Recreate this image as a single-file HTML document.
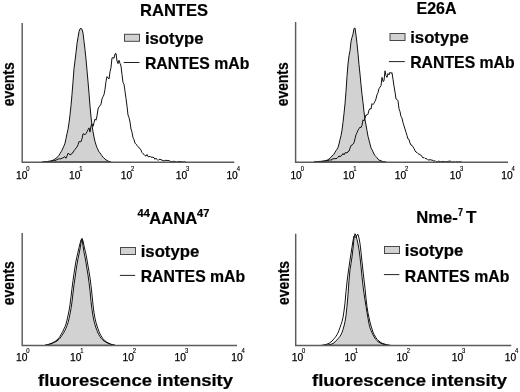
<!DOCTYPE html>
<html><head><meta charset="utf-8"><title>RANTES flow cytometry</title>
<style>
html,body{margin:0;padding:0;background:#fff;}
svg{display:block;font-family:'Liberation Sans', Arial, Helvetica, sans-serif;fill:#000;}
</style></head>
<body>
<svg width="520" height="392" viewBox="0 0 520 392">
<rect width="520" height="392" fill="#fff"/>
<path d="M44.0 162.0 L45.0 161.9 L46.0 161.7 L47.0 161.7 L48.0 161.4 L49.0 161.2 L50.0 161.1 L51.0 160.8 L52.0 160.5 L53.0 160.2 L54.0 159.7 L55.0 159.0 L56.0 158.3 L57.0 157.5 L58.0 156.6 L59.0 155.2 L60.0 153.6 L61.0 151.9 L62.0 150.2 L63.0 148.0 L64.0 145.8 L65.0 143.2 L66.0 138.6 L67.0 133.6 L68.0 129.3 L69.0 122.9 L70.0 114.8 L71.0 105.6 L72.0 94.4 L73.0 81.8 L74.0 68.6 L75.0 60.8 L76.0 52.5 L77.0 43.6 L78.0 37.5 L79.0 31.6 L80.0 28.8 L81.0 28.5 L82.0 29.2 L83.0 33.1 L84.0 41.4 L85.0 49.7 L86.0 59.2 L87.0 70.4 L88.0 81.5 L89.0 93.2 L90.0 106.1 L91.0 117.0 L92.0 125.4 L93.0 131.6 L94.0 137.1 L95.0 141.5 L96.0 144.9 L97.0 147.7 L98.0 149.8 L99.0 151.9 L100.0 152.9 L101.0 154.4 L102.0 155.9 L103.0 157.1 L104.0 158.1 L105.0 159.0 L106.0 159.9 L107.0 160.5 L108.0 161.0 L109.0 161.5 L110.0 161.8 L111.0 161.9Z" fill="#d2d2d2" stroke="#111" stroke-width="1" stroke-linejoin="round"/>
<path d="M42.0 161.9 L43.0 161.7 L44.0 162.0 L45.0 162.3 L46.0 161.9 L47.0 161.8 L48.0 162.1 L49.0 161.6 L50.0 161.7 L51.0 161.7 L52.0 161.0 L53.0 160.8 L54.0 160.7 L55.0 160.7 L56.0 160.1 L57.0 159.7 L58.0 159.1 L59.0 158.9 L60.0 158.7 L61.0 159.0 L62.0 158.1 L63.0 158.0 L64.0 157.0 L65.0 156.8 L66.0 158.3 L67.0 156.0 L68.0 153.2 L69.0 153.9 L70.0 154.7 L71.0 154.7 L72.0 153.1 L73.0 152.7 L74.0 150.7 L75.0 149.4 L76.0 148.0 L77.0 147.1 L78.0 144.8 L79.0 141.5 L80.0 141.8 L81.0 141.7 L82.0 138.8 L83.0 133.8 L84.0 134.0 L85.0 134.8 L86.0 133.5 L87.0 131.8 L88.0 129.7 L89.0 127.9 L90.0 132.1 L91.0 126.2 L92.0 123.9 L93.0 126.4 L94.0 122.7 L95.0 119.1 L96.0 120.2 L97.0 115.9 L98.0 109.0 L99.0 106.7 L100.0 105.8 L101.0 104.1 L102.0 98.9 L103.0 96.7 L104.0 94.6 L105.0 89.3 L106.0 81.4 L107.0 76.6 L108.0 77.9 L109.0 79.0 L110.0 71.8 L111.0 67.6 L112.0 57.9 L113.0 57.6 L114.0 58.3 L115.0 53.9 L116.0 53.5 L117.0 61.0 L118.0 63.6 L119.0 60.3 L120.0 63.4 L121.0 66.0 L122.0 74.7 L123.0 82.4 L124.0 84.4 L125.0 91.3 L126.0 98.5 L127.0 106.1 L128.0 115.0 L129.0 117.5 L130.0 122.0 L131.0 129.0 L132.0 132.3 L133.0 137.7 L134.0 139.7 L135.0 143.1 L136.0 144.3 L137.0 145.2 L138.0 146.6 L139.0 147.9 L140.0 148.5 L141.0 150.1 L142.0 152.6 L143.0 153.7 L144.0 154.3 L145.0 155.7 L146.0 156.1 L147.0 154.5 L148.0 156.6 L149.0 156.8 L150.0 156.2 L151.0 157.4 L152.0 157.0 L153.0 157.4 L154.0 157.7 L155.0 159.3 L156.0 158.1 L157.0 159.4 L158.0 160.4 L159.0 159.4 L160.0 159.3 L161.0 159.7 L162.0 160.2 L163.0 160.5 L164.0 161.0 L165.0 160.5 L166.0 160.2 L167.0 160.6 L168.0 160.5 L169.0 160.6 L170.0 161.2 L171.0 161.5 L172.0 161.8 L173.0 161.4 L174.0 161.2 L175.0 161.6 L176.0 161.9 L177.0 162.1 L178.0 161.5 L179.0 161.6 L180.0 161.4 L181.0 161.8 L182.0 161.9 L183.0 161.9 L184.0 161.8 L185.0 161.9 L186.0 162.1" fill="none" stroke="#111" stroke-width="1" stroke-linejoin="round"/>
<path d="M22.2 23 V162.3 H234.3" fill="none" stroke="#5c5c5c" stroke-width="1.45"/>
<text x="16.0" y="178.7" font-size="11.4" textLength="11.4" lengthAdjust="spacingAndGlyphs" stroke="#000" stroke-width="0.25">10</text>
<text x="26.3" y="170.5" font-size="7.0" textLength="3.3" lengthAdjust="spacingAndGlyphs" stroke="#000" stroke-width="0.15">0</text>
<text x="69.0" y="178.7" font-size="11.4" textLength="11.4" lengthAdjust="spacingAndGlyphs" stroke="#000" stroke-width="0.25">10</text>
<text x="79.3" y="170.5" font-size="7.0" textLength="3.3" lengthAdjust="spacingAndGlyphs" stroke="#000" stroke-width="0.15">1</text>
<text x="120.8" y="178.7" font-size="11.4" textLength="11.4" lengthAdjust="spacingAndGlyphs" stroke="#000" stroke-width="0.25">10</text>
<text x="131.1" y="170.5" font-size="7.0" textLength="3.3" lengthAdjust="spacingAndGlyphs" stroke="#000" stroke-width="0.15">2</text>
<text x="175.7" y="178.7" font-size="11.4" textLength="11.4" lengthAdjust="spacingAndGlyphs" stroke="#000" stroke-width="0.25">10</text>
<text x="186.0" y="170.5" font-size="7.0" textLength="3.3" lengthAdjust="spacingAndGlyphs" stroke="#000" stroke-width="0.15">3</text>
<text x="226.39999999999998" y="178.7" font-size="11.4" textLength="11.4" lengthAdjust="spacingAndGlyphs" stroke="#000" stroke-width="0.25">10</text>
<text x="236.7" y="170.5" font-size="7.0" textLength="3.3" lengthAdjust="spacingAndGlyphs" stroke="#000" stroke-width="0.15">4</text>
<rect x="124.5" y="34.3" width="15" height="7" fill="#d2d2d2" stroke="#484848" stroke-width="1"/>
<path d="M123.7 62.5 H139.5" stroke="#222" stroke-width="1"/>
<text x="144.9" y="43.8" font-size="16.9" font-weight="bold" stroke="#000" stroke-width="0.2" textLength="58.6" lengthAdjust="spacingAndGlyphs">isotype</text>
<text x="144.9" y="68.6" font-size="16.9" font-weight="bold" stroke="#000" stroke-width="0.2" textLength="104.5" lengthAdjust="spacingAndGlyphs">RANTES mAb</text>
<text x="140" y="15.6" font-size="17" font-weight="bold" stroke="#000" stroke-width="0.2" textLength="68" lengthAdjust="spacingAndGlyphs">RANTES</text>
<text x="0" y="0" font-size="16.5" font-weight="bold" stroke="#000" stroke-width="0.2" textLength="44" lengthAdjust="spacingAndGlyphs" transform="translate(14.2,106.3) rotate(-90)">events</text>
<path d="M314.0 161.9 L315.0 162.0 L316.0 161.8 L317.0 161.7 L318.0 161.6 L319.0 161.4 L320.0 161.4 L321.0 161.4 L322.0 161.4 L323.0 160.9 L324.0 160.9 L325.0 160.7 L326.0 160.5 L327.0 160.2 L328.0 159.8 L329.0 159.0 L330.0 158.1 L331.0 157.2 L332.0 155.9 L333.0 155.2 L334.0 154.1 L335.0 152.3 L336.0 150.7 L337.0 149.2 L338.0 147.3 L339.0 144.0 L340.0 139.5 L341.0 135.8 L342.0 130.1 L343.0 122.4 L344.0 113.5 L345.0 103.9 L346.0 91.4 L347.0 76.4 L348.0 64.0 L349.0 55.8 L350.0 50.7 L351.0 41.6 L352.0 37.4 L353.0 34.2 L354.0 28.5 L355.0 28.0 L356.0 35.1 L357.0 43.6 L358.0 53.5 L359.0 64.7 L360.0 74.1 L361.0 84.7 L362.0 94.4 L363.0 102.6 L364.0 111.9 L365.0 119.9 L366.0 125.0 L367.0 130.7 L368.0 136.3 L369.0 140.2 L370.0 143.9 L371.0 147.9 L372.0 149.6 L373.0 151.8 L374.0 154.0 L375.0 155.5 L376.0 156.7 L377.0 157.7 L378.0 159.2 L379.0 160.1 L380.0 160.4 L381.0 160.7 L382.0 161.3 L383.0 161.6 L384.0 161.8 L385.0 162.0 L386.0 162.0Z" fill="#d2d2d2" stroke="#111" stroke-width="1" stroke-linejoin="round"/>
<path d="M315.0 162.2 L316.0 162.2 L317.0 161.7 L318.0 161.5 L319.0 161.8 L320.0 161.6 L321.0 161.4 L322.0 161.2 L323.0 161.7 L324.0 161.7 L325.0 161.5 L326.0 160.9 L327.0 160.4 L328.0 160.8 L329.0 160.7 L330.0 159.5 L331.0 160.5 L332.0 159.0 L333.0 158.9 L334.0 158.7 L335.0 158.7 L336.0 158.6 L337.0 158.4 L338.0 157.3 L339.0 155.9 L340.0 156.7 L341.0 156.0 L342.0 155.1 L343.0 153.5 L344.0 154.9 L345.0 152.9 L346.0 152.5 L347.0 153.1 L348.0 151.4 L349.0 151.2 L350.0 148.2 L351.0 145.5 L352.0 145.1 L353.0 144.2 L354.0 142.8 L355.0 138.7 L356.0 134.7 L357.0 132.7 L358.0 130.1 L359.0 128.7 L360.0 127.1 L361.0 127.6 L362.0 125.3 L363.0 119.8 L364.0 120.9 L365.0 118.1 L366.0 114.9 L367.0 115.1 L368.0 114.1 L369.0 110.1 L370.0 108.5 L371.0 109.1 L372.0 103.6 L373.0 104.6 L374.0 103.2 L375.0 101.3 L376.0 98.9 L377.0 94.6 L378.0 92.7 L379.0 88.6 L380.0 87.1 L381.0 85.6 L382.0 77.4 L383.0 81.5 L384.0 80.8 L385.0 70.8 L386.0 75.7 L387.0 77.4 L388.0 73.5 L389.0 74.9 L390.0 72.2 L391.0 73.4 L392.0 72.6 L393.0 79.3 L394.0 86.1 L395.0 92.0 L396.0 98.9 L397.0 99.4 L398.0 100.8 L399.0 108.8 L400.0 111.6 L401.0 116.5 L402.0 118.1 L403.0 122.6 L404.0 125.8 L405.0 129.0 L406.0 132.3 L407.0 135.5 L408.0 139.0 L409.0 139.5 L410.0 143.0 L411.0 145.1 L412.0 145.4 L413.0 146.9 L414.0 148.5 L415.0 150.6 L416.0 152.2 L417.0 152.4 L418.0 153.6 L419.0 154.1 L420.0 154.7 L421.0 155.4 L422.0 156.3 L423.0 158.0 L424.0 157.4 L425.0 158.4 L426.0 158.8 L427.0 158.8 L428.0 159.8 L429.0 160.2 L430.0 159.5 L431.0 160.0 L432.0 160.1 L433.0 160.5 L434.0 161.4 L435.0 160.5 L436.0 161.6 L437.0 162.1 L438.0 161.3 L439.0 161.1 L440.0 161.7 L441.0 161.9 L442.0 161.6 L443.0 161.2 L444.0 161.8 L445.0 161.8 L446.0 161.6 L447.0 161.8 L448.0 161.4 L449.0 161.2 L450.0 161.1 L451.0 161.3 L452.0 162.3 L453.0 161.8 L454.0 161.7 L455.0 162.3 L456.0 161.9 L457.0 161.8 L458.0 161.9 L459.0 161.9 L460.0 161.9 L461.0 162.0 L462.0 162.1" fill="none" stroke="#111" stroke-width="1" stroke-linejoin="round"/>
<path d="M295.6 22 V162.3 H508" fill="none" stroke="#5c5c5c" stroke-width="1.45"/>
<text x="290.4" y="178.7" font-size="11.4" textLength="11.4" lengthAdjust="spacingAndGlyphs" stroke="#000" stroke-width="0.25">10</text>
<text x="300.7" y="170.5" font-size="7.0" textLength="3.3" lengthAdjust="spacingAndGlyphs" stroke="#000" stroke-width="0.15">0</text>
<text x="343.0" y="178.7" font-size="11.4" textLength="11.4" lengthAdjust="spacingAndGlyphs" stroke="#000" stroke-width="0.25">10</text>
<text x="353.3" y="170.5" font-size="7.0" textLength="3.3" lengthAdjust="spacingAndGlyphs" stroke="#000" stroke-width="0.15">1</text>
<text x="394.8" y="178.7" font-size="11.4" textLength="11.4" lengthAdjust="spacingAndGlyphs" stroke="#000" stroke-width="0.25">10</text>
<text x="405.1" y="170.5" font-size="7.0" textLength="3.3" lengthAdjust="spacingAndGlyphs" stroke="#000" stroke-width="0.15">2</text>
<text x="449.7" y="178.7" font-size="11.4" textLength="11.4" lengthAdjust="spacingAndGlyphs" stroke="#000" stroke-width="0.25">10</text>
<text x="460.0" y="170.5" font-size="7.0" textLength="3.3" lengthAdjust="spacingAndGlyphs" stroke="#000" stroke-width="0.15">3</text>
<text x="501.3" y="178.7" font-size="11.4" textLength="11.4" lengthAdjust="spacingAndGlyphs" stroke="#000" stroke-width="0.25">10</text>
<text x="511.6" y="170.5" font-size="7.0" textLength="3.3" lengthAdjust="spacingAndGlyphs" stroke="#000" stroke-width="0.15">4</text>
<rect x="390" y="33.5" width="15" height="7" fill="#d2d2d2" stroke="#484848" stroke-width="1"/>
<path d="M388.9 61.6 H404.8" stroke="#222" stroke-width="1"/>
<text x="410.2" y="42.8" font-size="16.9" font-weight="bold" stroke="#000" stroke-width="0.2" textLength="58.6" lengthAdjust="spacingAndGlyphs">isotype</text>
<text x="410.2" y="68.3" font-size="16.9" font-weight="bold" stroke="#000" stroke-width="0.2" textLength="104.5" lengthAdjust="spacingAndGlyphs">RANTES mAb</text>
<text x="416.5" y="13.8" font-size="17" font-weight="bold" stroke="#000" stroke-width="0.2" textLength="40" lengthAdjust="spacingAndGlyphs">E26A</text>
<text x="0" y="0" font-size="16.5" font-weight="bold" stroke="#000" stroke-width="0.2" textLength="44" lengthAdjust="spacingAndGlyphs" transform="translate(288.2,106.3) rotate(-90)">events</text>
<path d="M45.0 345.3 L46.0 345.1 L47.0 344.9 L48.0 344.6 L49.0 344.3 L50.0 344.0 L51.0 343.7 L52.0 343.4 L53.0 343.0 L54.0 342.4 L55.0 342.0 L56.0 341.6 L57.0 341.0 L58.0 340.1 L59.0 339.3 L60.0 338.2 L61.0 336.8 L62.0 335.4 L63.0 333.8 L64.0 332.2 L65.0 330.4 L66.0 328.1 L67.0 325.7 L68.0 322.7 L69.0 318.7 L70.0 313.9 L71.0 308.5 L72.0 301.8 L73.0 293.1 L74.0 284.8 L75.0 278.0 L76.0 270.9 L77.0 264.2 L78.0 258.7 L79.0 254.0 L80.0 249.0 L81.0 242.7 L82.0 238.6 L83.0 245.8 L84.0 252.3 L85.0 257.1 L86.0 262.9 L87.0 269.1 L88.0 275.0 L89.0 282.4 L90.0 290.6 L91.0 301.4 L92.0 309.7 L93.0 316.2 L94.0 321.1 L95.0 324.8 L96.0 328.0 L97.0 330.6 L98.0 333.0 L99.0 334.9 L100.0 336.6 L101.0 338.1 L102.0 339.3 L103.0 340.2 L104.0 341.0 L105.0 341.6 L106.0 342.2 L107.0 342.8 L108.0 343.2 L109.0 343.6 L110.0 344.0 L111.0 344.3 L112.0 344.6 L113.0 344.9 L114.0 345.1 L115.0 345.3Z" fill="#d2d2d2" stroke="#111" stroke-width="1" stroke-linejoin="round"/>
<path d="M45.0 345.3 L46.0 345.1 L47.0 344.9 L48.0 344.6 L49.0 344.3 L50.0 343.9 L51.0 343.5 L52.0 343.1 L53.0 342.6 L54.0 342.0 L55.0 341.4 L56.0 340.8 L57.0 340.0 L58.0 338.9 L59.0 337.8 L60.0 336.3 L61.0 334.6 L62.0 332.9 L63.0 331.1 L64.0 328.8 L65.0 326.7 L66.0 324.0 L67.0 320.2 L68.0 315.7 L69.0 310.9 L70.0 304.8 L71.0 296.9 L72.0 288.4 L73.0 280.7 L74.0 273.7 L75.0 267.0 L76.0 261.1 L77.0 256.3 L78.0 252.1 L79.0 247.7 L80.0 243.7 L81.0 239.9 L82.0 238.7 L83.0 240.8 L84.0 245.8 L85.0 250.3 L86.0 254.3 L87.0 260.0 L88.0 265.9 L89.0 271.6 L90.0 277.8 L91.0 285.6 L92.0 294.9 L93.0 304.9 L94.0 312.8 L95.0 318.3 L96.0 322.6 L97.0 326.0 L98.0 328.8 L99.0 331.6 L100.0 333.9 L101.0 335.6 L102.0 337.2 L103.0 338.7 L104.0 339.8 L105.0 340.8 L106.0 341.7 L107.0 342.3 L108.0 342.9 L109.0 343.4 L110.0 343.8 L111.0 344.3 L112.0 344.6 L113.0 344.9 L114.0 345.1 L115.0 345.3" fill="none" stroke="#111" stroke-width="1" stroke-linejoin="round"/>
<path d="M22.2 233 V345.5 H237" fill="none" stroke="#5c5c5c" stroke-width="1.45"/>
<text x="16.0" y="361.1" font-size="11.4" textLength="11.4" lengthAdjust="spacingAndGlyphs" stroke="#000" stroke-width="0.25">10</text>
<text x="26.3" y="352.90000000000003" font-size="7.0" textLength="3.3" lengthAdjust="spacingAndGlyphs" stroke="#000" stroke-width="0.15">0</text>
<text x="70.0" y="361.1" font-size="11.4" textLength="11.4" lengthAdjust="spacingAndGlyphs" stroke="#000" stroke-width="0.25">10</text>
<text x="80.3" y="352.90000000000003" font-size="7.0" textLength="3.3" lengthAdjust="spacingAndGlyphs" stroke="#000" stroke-width="0.15">1</text>
<text x="122.5" y="361.1" font-size="11.4" textLength="11.4" lengthAdjust="spacingAndGlyphs" stroke="#000" stroke-width="0.25">10</text>
<text x="132.8" y="352.90000000000003" font-size="7.0" textLength="3.3" lengthAdjust="spacingAndGlyphs" stroke="#000" stroke-width="0.15">2</text>
<text x="174.6" y="361.1" font-size="11.4" textLength="11.4" lengthAdjust="spacingAndGlyphs" stroke="#000" stroke-width="0.25">10</text>
<text x="184.9" y="352.90000000000003" font-size="7.0" textLength="3.3" lengthAdjust="spacingAndGlyphs" stroke="#000" stroke-width="0.15">3</text>
<text x="231.2" y="361.1" font-size="11.4" textLength="11.4" lengthAdjust="spacingAndGlyphs" stroke="#000" stroke-width="0.25">10</text>
<text x="241.5" y="352.90000000000003" font-size="7.0" textLength="3.3" lengthAdjust="spacingAndGlyphs" stroke="#000" stroke-width="0.15">4</text>
<rect x="120.5" y="247.5" width="15" height="7" fill="#d2d2d2" stroke="#484848" stroke-width="1"/>
<path d="M119.9 275.4 H135.2" stroke="#222" stroke-width="1"/>
<text x="140.7" y="256.7" font-size="16.9" font-weight="bold" stroke="#000" stroke-width="0.2" textLength="58.6" lengthAdjust="spacingAndGlyphs">isotype</text>
<text x="140.7" y="282" font-size="16.9" font-weight="bold" stroke="#000" stroke-width="0.2" textLength="104.5" lengthAdjust="spacingAndGlyphs">RANTES mAb</text>
<text x="149.3" y="223.7" font-size="17" font-weight="bold" stroke="#000" stroke-width="0.2" textLength="48" lengthAdjust="spacingAndGlyphs">AANA</text>
<text x="137.5" y="216.7" font-size="10" font-weight="bold" stroke="#000" stroke-width="0.2" textLength="12.3" lengthAdjust="spacingAndGlyphs">44</text>
<text x="197" y="216.7" font-size="10" font-weight="bold" stroke="#000" stroke-width="0.2" textLength="12.3" lengthAdjust="spacingAndGlyphs">47</text>
<text x="0" y="0" font-size="16.5" font-weight="bold" stroke="#000" stroke-width="0.2" textLength="44" lengthAdjust="spacingAndGlyphs" transform="translate(14.2,305.2) rotate(-90)">events</text>
<text x="38" y="385.7" font-size="16.5" font-weight="bold" stroke="#000" stroke-width="0.2" textLength="195" lengthAdjust="spacingAndGlyphs">fluorescence intensity</text>
<path d="M324.0 345.3 L325.0 345.3 L326.0 345.2 L327.0 345.1 L328.0 344.9 L329.0 344.8 L330.0 344.5 L331.0 344.3 L332.0 343.9 L333.0 343.5 L334.0 342.8 L335.0 341.9 L336.0 340.9 L337.0 339.8 L338.0 338.7 L339.0 337.6 L340.0 336.3 L341.0 334.6 L342.0 332.5 L343.0 329.5 L344.0 326.0 L345.0 321.7 L346.0 315.6 L347.0 306.2 L348.0 294.9 L349.0 280.5 L350.0 269.7 L351.0 263.7 L352.0 256.9 L353.0 248.7 L354.0 238.1 L355.0 233.7 L356.0 235.9 L357.0 239.5 L358.0 244.0 L359.0 249.5 L360.0 257.1 L361.0 266.5 L362.0 276.7 L363.0 285.8 L364.0 293.4 L365.0 300.0 L366.0 306.4 L367.0 312.5 L368.0 318.2 L369.0 323.9 L370.0 327.9 L371.0 330.4 L372.0 332.8 L373.0 334.8 L374.0 336.7 L375.0 338.3 L376.0 339.7 L377.0 340.7 L378.0 341.6 L379.0 342.3 L380.0 342.8 L381.0 343.3 L382.0 343.7 L383.0 344.1 L384.0 344.4 L385.0 344.7 L386.0 345.0 L387.0 345.1 L388.0 345.2 L389.0 345.3Z" fill="#d2d2d2" stroke="#111" stroke-width="1" stroke-linejoin="round"/>
<path d="M321.0 345.3 L322.0 345.3 L323.0 345.1 L324.0 344.9 L325.0 344.7 L326.0 344.5 L327.0 344.1 L328.0 343.7 L329.0 343.3 L330.0 342.7 L331.0 341.9 L332.0 341.0 L333.0 340.0 L334.0 338.8 L335.0 337.7 L336.0 336.2 L337.0 334.6 L338.0 332.9 L339.0 330.3 L340.0 327.4 L341.0 324.6 L342.0 321.7 L343.0 317.5 L344.0 311.0 L345.0 303.1 L346.0 291.7 L347.0 282.1 L348.0 274.1 L349.0 267.0 L350.0 260.0 L351.0 253.5 L352.0 247.2 L353.0 240.8 L354.0 235.9 L355.0 236.7 L356.0 237.7 L357.0 234.9 L358.0 234.4 L359.0 238.1 L360.0 243.6 L361.0 252.1 L362.0 261.8 L363.0 271.0 L364.0 279.8 L365.0 288.3 L366.0 298.5 L367.0 306.8 L368.0 313.1 L369.0 317.7 L370.0 322.1 L371.0 325.9 L372.0 329.0 L373.0 332.1 L374.0 334.3 L375.0 336.0 L376.0 337.8 L377.0 339.3 L378.0 340.3 L379.0 341.1 L380.0 341.9 L381.0 342.7 L382.0 343.2 L383.0 343.6 L384.0 343.8 L385.0 344.2 L386.0 344.5 L387.0 344.8 L388.0 345.0 L389.0 345.2 L390.0 345.3 L391.0 345.3" fill="none" stroke="#111" stroke-width="1" stroke-linejoin="round"/>
<path d="M295.7 233.7 V345.5 H511.3" fill="none" stroke="#5c5c5c" stroke-width="1.45"/>
<text x="291.7" y="361.1" font-size="11.4" textLength="11.4" lengthAdjust="spacingAndGlyphs" stroke="#000" stroke-width="0.25">10</text>
<text x="302.0" y="352.90000000000003" font-size="7.0" textLength="3.3" lengthAdjust="spacingAndGlyphs" stroke="#000" stroke-width="0.15">0</text>
<text x="344.5" y="361.1" font-size="11.4" textLength="11.4" lengthAdjust="spacingAndGlyphs" stroke="#000" stroke-width="0.25">10</text>
<text x="354.8" y="352.90000000000003" font-size="7.0" textLength="3.3" lengthAdjust="spacingAndGlyphs" stroke="#000" stroke-width="0.15">1</text>
<text x="396.4" y="361.1" font-size="11.4" textLength="11.4" lengthAdjust="spacingAndGlyphs" stroke="#000" stroke-width="0.25">10</text>
<text x="406.7" y="352.90000000000003" font-size="7.0" textLength="3.3" lengthAdjust="spacingAndGlyphs" stroke="#000" stroke-width="0.15">2</text>
<text x="451.7" y="361.1" font-size="11.4" textLength="11.4" lengthAdjust="spacingAndGlyphs" stroke="#000" stroke-width="0.25">10</text>
<text x="462.0" y="352.90000000000003" font-size="7.0" textLength="3.3" lengthAdjust="spacingAndGlyphs" stroke="#000" stroke-width="0.15">3</text>
<text x="504.8" y="361.1" font-size="11.4" textLength="11.4" lengthAdjust="spacingAndGlyphs" stroke="#000" stroke-width="0.25">10</text>
<text x="515.1" y="352.90000000000003" font-size="7.0" textLength="3.3" lengthAdjust="spacingAndGlyphs" stroke="#000" stroke-width="0.15">4</text>
<rect x="384.5" y="246.5" width="15" height="7" fill="#d2d2d2" stroke="#484848" stroke-width="1"/>
<path d="M383.9 274.6 H399.4" stroke="#222" stroke-width="1"/>
<text x="404.8" y="256.3" font-size="16.9" font-weight="bold" stroke="#000" stroke-width="0.2" textLength="58.6" lengthAdjust="spacingAndGlyphs">isotype</text>
<text x="404.8" y="281.6" font-size="16.9" font-weight="bold" stroke="#000" stroke-width="0.2" textLength="104.5" lengthAdjust="spacingAndGlyphs">RANTES mAb</text>
<text x="416.3" y="222.9" font-size="17" font-weight="bold" stroke="#000" stroke-width="0.2" textLength="41.5" lengthAdjust="spacingAndGlyphs">Nme-</text>
<text x="458" y="216" font-size="10" font-weight="bold" stroke="#000" stroke-width="0.2" textLength="5" lengthAdjust="spacingAndGlyphs">7</text>
<text x="466" y="222.9" font-size="17" font-weight="bold" stroke="#000" stroke-width="0.2" textLength="10.5" lengthAdjust="spacingAndGlyphs">T</text>
<text x="0" y="0" font-size="16.5" font-weight="bold" stroke="#000" stroke-width="0.2" textLength="44" lengthAdjust="spacingAndGlyphs" transform="translate(289.2,305) rotate(-90)">events</text>
<text x="312" y="385.7" font-size="16.5" font-weight="bold" stroke="#000" stroke-width="0.2" textLength="195" lengthAdjust="spacingAndGlyphs">fluorescence intensity</text>
</svg>
</body></html>
